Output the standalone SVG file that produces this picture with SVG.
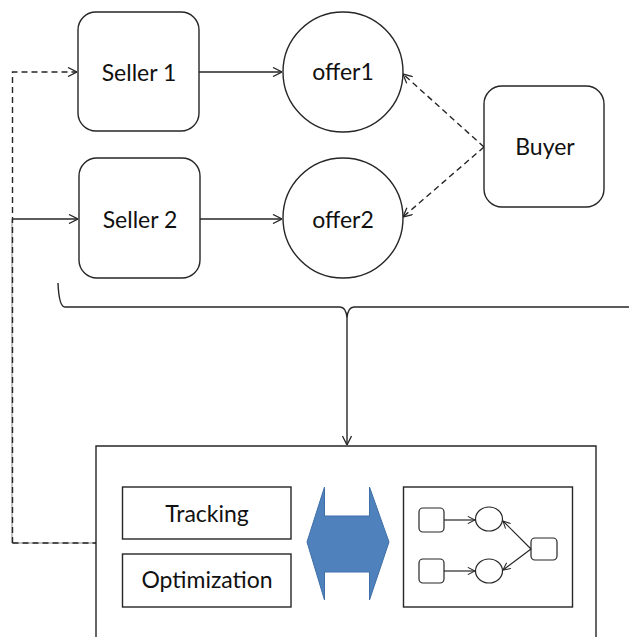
<svg xmlns="http://www.w3.org/2000/svg" width="629" height="637" viewBox="0 0 629 637">
<defs>
<style>
.node{fill:#fff;stroke:#262626;stroke-width:1.4}
.t{font-family:Lato,"Liberation Sans",sans-serif;font-size:23px;fill:#111;text-anchor:middle}
.c{fill:none;stroke:#262626;stroke-width:1.4}
.d{stroke-dasharray:6 4}
.g{fill:none;stroke:#8a8a8a;stroke-width:1}
.s{fill:#fff;stroke:#262626;stroke-width:1.2}
.sc{fill:none;stroke:#262626;stroke-width:1.2}
</style>
<marker id="a" viewBox="0 0 10 10" refX="10" refY="5" markerWidth="10" markerHeight="10" markerUnits="userSpaceOnUse" orient="auto">
<path d="M1,0.5 L10,5 L1,9.5" fill="none" stroke="#262626" stroke-width="1.3"/>
</marker>
<marker id="as" viewBox="0 0 10 10" refX="10" refY="5" markerWidth="8" markerHeight="8" markerUnits="userSpaceOnUse" orient="auto">
<path d="M1,0.5 L10,5 L1,9.5" fill="none" stroke="#262626" stroke-width="1.3"/>
</marker>
</defs>
<rect width="629" height="637" fill="#fff"/>
<g id="connectors">
<path class="g" d="M12,219 L12,543 L96,543"/>
<path class="c d" d="M12.5,543 L12.5,72 L77,72" marker-end="url(#a)"/>
<path class="c d" d="M12.5,543 L96,543"/>
<path class="c" d="M12,219 L78,219" marker-end="url(#a)"/>
<path class="c" d="M199,72 L282,72" marker-end="url(#a)"/>
<path class="c" d="M200,219 L282,219" marker-end="url(#a)"/>
<path class="c d" d="M484,147 L403,74" marker-end="url(#a)"/>
<path class="c d" d="M484,147 L403,217" marker-end="url(#a)"/>
<path class="c" d="M58,283 Q59,307 65,307 L340,307 Q346,307 347,318 Q348,307 354,307 L629,307"/>
<path class="c" d="M347,318 L347,445" marker-end="url(#a)"/>
</g>
<g id="seller1"><rect class="node" x="78" y="12" width="121" height="119" rx="18"/><text class="t" x="139" y="81">Seller 1</text></g>
<g id="seller2"><rect class="node" x="79" y="158" width="121" height="120" rx="18"/><text class="t" x="140" y="228">Seller 2</text></g>
<g id="offer1"><circle class="node" cx="343" cy="72" r="60"/><text class="t" x="343" y="80">offer1</text></g>
<g id="offer2"><circle class="node" cx="343" cy="218" r="60"/><text class="t" x="343" y="228">offer2</text></g>
<g id="buyer"><rect class="node" x="484" y="86" width="120" height="121" rx="18"/><text class="t" x="545" y="155">Buyer</text></g>
<g id="system">
<path class="node" d="M96,640 L96,446 L596,446 L596,640"/>
<g id="tracking"><rect class="node" x="122.5" y="487" width="168.5" height="52"/><text class="t" x="207" y="522">Tracking</text></g>
<g id="optimization"><rect class="node" x="122.5" y="554" width="168.5" height="53"/><text class="t" x="207" y="588">Optimization</text></g>
<g id="exchange"><path d="M324.5,487 L324.5,516 L369.5,516 L369.5,487 L389,542 L369.5,600 L369.5,572 L324.5,572 L324.5,600 L307,542 Z" fill="#4F81BD" stroke="#3E6FA8" stroke-width="1"/></g>
<g id="model">
<rect class="node" x="403.5" y="487" width="169" height="120"/>
<rect class="s" x="419" y="508" width="25" height="24" rx="4"/>
<rect class="s" x="419" y="559" width="25" height="24" rx="4"/>
<rect class="s" x="531" y="538" width="26" height="22" rx="4"/>
<ellipse class="s" cx="489" cy="519" rx="13.5" ry="12"/>
<ellipse class="s" cx="489" cy="571" rx="13.5" ry="12"/>
<path class="sc" d="M444,520 L475,520" marker-end="url(#as)"/>
<path class="sc" d="M444,571 L475,571" marker-end="url(#as)"/>
<path class="sc" d="M531,549 L503,521" marker-end="url(#as)"/>
<path class="sc" d="M531,549 L503,570" marker-end="url(#as)"/>
</g>
</g>
</svg>
